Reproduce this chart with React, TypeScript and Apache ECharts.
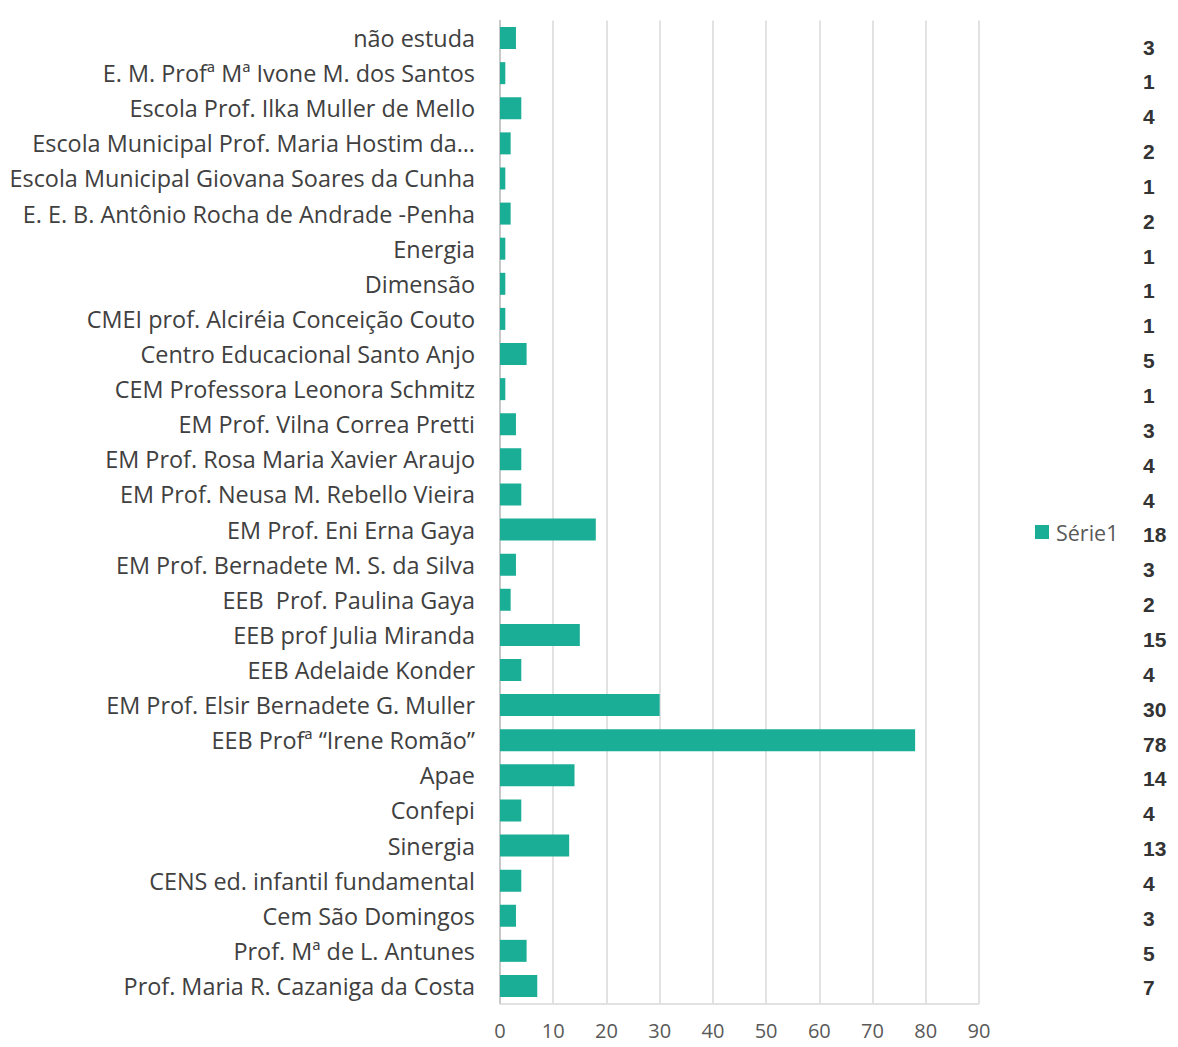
import React, { useEffect, useRef } from "react";
import * as echarts from "echarts";

const categories = [
  "não estuda",
  "E. M. Profª Mª Ivone M. dos Santos",
  "Escola Prof. Ilka Muller de Mello",
  "Escola Municipal Prof. Maria Hostim da…",
  "Escola Municipal Giovana Soares da Cunha",
  "E. E. B. Antônio Rocha de Andrade -Penha",
  "Energia",
  "Dimensão",
  "CMEI prof. Alciréia Conceição Couto",
  "Centro Educacional Santo Anjo",
  "CEM Professora Leonora Schmitz",
  "EM Prof. Vilna Correa Pretti",
  "EM Prof. Rosa Maria Xavier Araujo",
  "EM Prof. Neusa M. Rebello Vieira",
  "EM Prof. Eni Erna Gaya",
  "EM Prof. Bernadete M. S. da Silva",
  "EEB  Prof. Paulina Gaya",
  "EEB prof Julia Miranda",
  "EEB Adelaide Konder",
  "EM Prof. Elsir Bernadete G. Muller",
  "EEB Profª “Irene Romão”",
  "Apae",
  "Confepi",
  "Sinergia",
  "CENS ed. infantil fundamental",
  "Cem São Domingos",
  "Prof. Mª de L. Antunes",
  "Prof. Maria R. Cazaniga da Costa",
];

const serie1 = [3, 1, 4, 2, 1, 2, 1, 1, 1, 5, 1, 3, 4, 4, 18, 3, 2, 15, 4, 30, 78, 14, 4, 13, 4, 3, 5, 7];

const seriesName = "Série1";
const xMin = 0;
const xMax = 90;
const xInterval = 10;

export default function App() {
  const ref = useRef<HTMLDivElement>(null);
  useEffect(() => {
    if (!ref.current) return;
    const chart = echarts.init(ref.current, undefined, { renderer: "svg" });
    const font = "'Open Sans', 'Noto Sans', sans-serif";
    chart.setOption({
      animation: false,
      backgroundColor: "#ffffff",
      legend: {
        data: [seriesName],
        left: 1035,
        top: 521,
        padding: 0,
        icon: "rect",
        itemWidth: 14,
        itemHeight: 14,
        itemGap: 6,
        textStyle: { fontFamily: font, fontSize: 21.5, color: "#595959", padding: [0, 0, 0, 2] },
      },
      grid: [
        { left: 500, right: 199, top: 20.5, bottom: 43.5, containLabel: false },
        { left: 1100, right: 43, top: 29.6, bottom: 41.6, containLabel: false },
      ],
      xAxis: [
        {
          type: "value",
          gridIndex: 0,
          min: xMin,
          max: xMax,
          interval: xInterval,
          axisLine: { show: true, lineStyle: { color: "#d9d9d9", width: 1.5 } },
          axisTick: { show: false },
          splitLine: { show: true, lineStyle: { color: "#d9d9d9", width: 1.5 } },
          axisLabel: {
            fontFamily: font,
            fontSize: 20,
            lineHeight: 20,
            color: "#595959",
            margin: 17,
          },
        },
        {
          type: "value",
          gridIndex: 1,
          show: false,
        },
      ],
      yAxis: [
        {
          type: "category",
          gridIndex: 0,
          data: categories,
          inverse: true,
          axisLine: { show: true, lineStyle: { color: "#bfbfbf", width: 1.5 } },
          axisTick: { show: false },
          splitLine: { show: false },
          axisLabel: {
            fontFamily: font,
            fontSize: 23.4,
            color: "#404040",
            margin: 25,
            interval: 0,
          },
        },
        {
          type: "category",
          gridIndex: 1,
          position: "right",
          data: serie1.map((v) => String(v)),
          inverse: true,
          axisLine: { show: false },
          axisTick: { show: false },
          splitLine: { show: false },
          axisLabel: {
            fontFamily: "'Liberation Sans', Arial, sans-serif",
            fontWeight: "bold",
            fontSize: 21,
            color: "#333333",
            margin: 8,
            interval: 0,
          },
        },
      ],
      series: [
        {
          name: seriesName,
          type: "bar",
          xAxisIndex: 0,
          yAxisIndex: 0,
          data: serie1,
          barWidth: 22,
          itemStyle: { color: "#1aae96" },
        },
      ],
    });
    return () => chart.dispose();
  }, []);
  return (
    <div
      ref={ref}
      style={{ position: "absolute", left: 0, top: 0, width: 1178, height: 1047 }}
    />
  );
}
